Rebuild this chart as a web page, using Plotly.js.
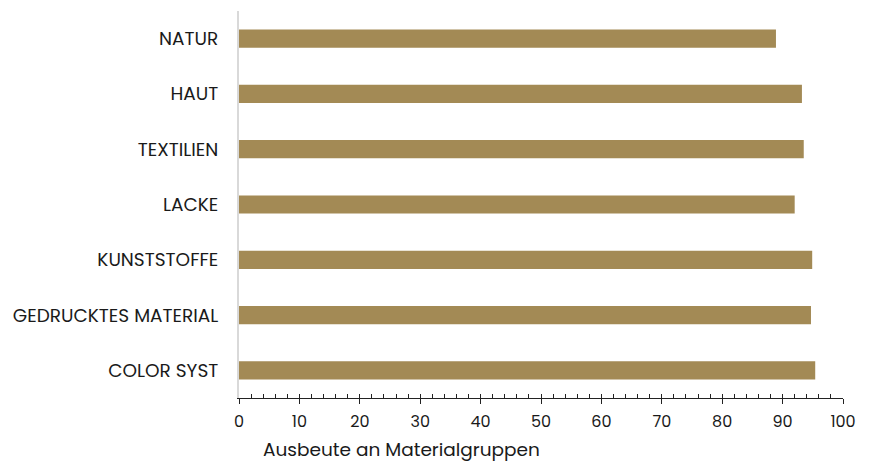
<!DOCTYPE html>
<html>
<head>
<meta charset="utf-8">
<script src="https://cdn.plot.ly/plotly-3.0.1.min.js"></script>
<style>html,body{margin:0;padding:0;background:#fff;}#chart{width:872px;height:461px;}</style>
</head>
<body>
<div id="chart"></div>
<script>
const categories = ["NATUR", "HAUT", "TEXTILIEN", "LACKE", "KUNSTSTOFFE", "GEDRUCKTES MATERIAL", "COLOR SYST"];
const values = [88.9, 93.2, 93.5, 92.0, 94.9, 94.7, 95.4];
const xTickVals = [0, 10, 20, 30, 40, 50, 60, 70, 80, 90, 100];
const xTitle = "Ausbeute an Materialgruppen";

const FONT = "Poppins, 'Open Sans', Lato, sans-serif";

const data = [{
  type: "bar",
  orientation: "h",
  x: values,
  y: categories,
  marker: {color: "#A38A55"},
  hoverinfo: "x+y"
}, {
  type: "scatter",
  x: [0, 100],
  y: [0, 0],
  xaxis: "x2",
  yaxis: "y2",
  mode: "none",
  showlegend: false,
  hoverinfo: "skip"
}];

const layout = {
  width: 872,
  height: 461,
  margin: {l: 239, r: 29, t: 11, b: 63},
  paper_bgcolor: "#ffffff",
  plot_bgcolor: "#ffffff",
  showlegend: false,
  bargap: 0.67,
  font: {family: FONT, color: "#1a1a1a", size: 16},
  xaxis: {
    range: [0, 100],
    tickvals: xTickVals,
    ticks: "outside",
    ticklen: 5,
    tickcolor: "#222",
    tickwidth: 1,
    ticklabelstandoff: 4,
    showline: true,
    linecolor: "#222",
    linewidth: 1,
    showgrid: false,
    zeroline: false,
    tickfont: {family: FONT, size: 16, color: "#1a1a1a"},
    fixedrange: true
  },
  xaxis2: {
    overlaying: "x",
    matches: "x",
    range: [0, 100],
    dtick: 2,
    tick0: 0,
    ticks: "inside",
    ticklen: 4,
    tickcolor: "#222",
    showticklabels: false,
    showline: false,
    showgrid: false,
    zeroline: false,
    anchor: "y2"
  },
  yaxis2: {
    overlaying: "y",
    visible: false,
    range: [0, 1]
  },
  yaxis: {
    categoryorder: "array",
    categoryarray: categories.slice().reverse(),
    showline: true,
    linecolor: "#d9d9d9",
    linewidth: 2,
    ticks: "",
    ticklabelstandoff: 15,
    showgrid: false,
    zeroline: false,
    tickfont: {family: FONT, size: 18.5, color: "#1a1a1a"},
    fixedrange: true
  },
  annotations: [{
    text: xTitle,
    xref: "paper",
    yref: "paper",
    x: 0.036,
    y: -0.132,
    xanchor: "left",
    yanchor: "middle",
    showarrow: false,
    font: {family: FONT, size: 18.5, color: "#1a1a1a"}
  }]
};

Plotly.newPlot("chart", data, layout, {displayModeBar: false, staticPlot: true});
</script>
</body>
</html>
